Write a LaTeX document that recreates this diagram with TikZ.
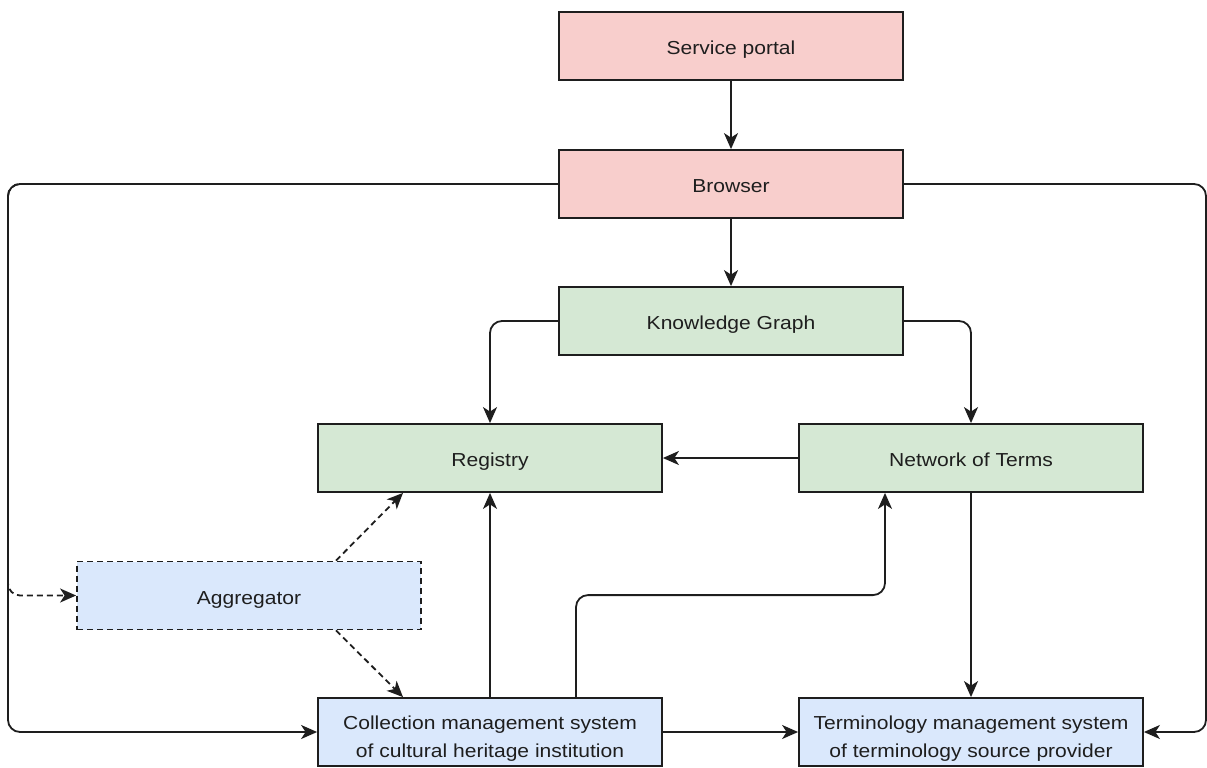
\documentclass[tikz,border=0pt]{standalone}
\usepackage{fontspec}
\setmainfont[FakeStretch=1.12]{Liberation Sans}
\usetikzlibrary{arrows.meta,calc}
\definecolor{pinkfill}{HTML}{F8CECC}
\definecolor{greenfill}{HTML}{D5E8D4}
\definecolor{bluefill}{HTML}{DAE8FC}
\definecolor{ink}{HTML}{1E1E1E}
% two centred lines, set a little below the middle of their box
\newcommand{\twolines}[2]{\raisebox{-10pt}[0pt][0pt]{\begin{tabular}{@{}c@{}}#1\\#2\end{tabular}}}

\begin{document}
\begin{tikzpicture}[x=1pt,y=-1pt,
  box/.style={draw=ink, line width=1.8pt, minimum width=344pt, minimum height=68pt,
    inner sep=0pt, font=\fontsize{18.8}{28}\selectfont, text=ink},
  oneline/.style={text height=19pt, text depth=2pt},
  portal/.style={box, oneline, fill=pinkfill},
  kgbox/.style={box, oneline, fill=greenfill},
  sysbox/.style={box, fill=bluefill},
  link/.style={draw=ink, line width=1.8pt, rounded corners=12pt,
    -{Stealth[length=16pt,width=14pt,inset=4.5pt]}},
  dlink/.style={link, dash pattern=on 6pt off 4pt},
]
\useasboundingbox (0,0) rectangle (1207,768);

% boxes
\node[portal] (sp)  at (731,46)  {Service portal};
\node[portal] (br)  at (731,184) {Browser};
\node[kgbox]  (kg)  at (731,321) {Knowledge Graph};
\node[kgbox]  (reg) at (490,458) {Registry};
\node[kgbox]  (not) at (971,458) {Network of Terms};
\node[sysbox, oneline, dash pattern=on 6pt off 4pt] (agg) at (249,595.5) {Aggregator};
\node[sysbox] (cms) at (490,732) {\twolines{Collection management system}{of cultural heritage institution}};
\node[sysbox] (tms) at (971,732) {\twolines{Terminology management system}{of terminology source provider}};

% outer return lines
\coordinate (lc) at (8,0);
\coordinate (rc) at (1206,0);

% connectors
\draw[link] (sp) -- (br);
\draw[link] (br) -- (kg);
\draw[link] (kg.west) -| (reg.north);
\draw[link] (kg.east) -| (not.north);
\draw[link] (not.west) -- (reg.east);
\draw[link] (not.south) -- (tms.north);
\draw[link] (cms.north) -- (reg.south);
\draw[link] ($(cms.north)+(86,0)$) -- ++(0,-102) -| ($(not.south)+(-86,0)$);
\draw[link] (cms.east) -- (tms.west);

\draw[dlink] (br.west) -- (br.west -| lc) -- (lc |- agg.west) -- (agg.west);
\draw[link] (br.west) -- (br.west -| lc) -- (lc |- cms.west) -- (cms.west);
\draw[link] (br.east) -- (br.east -| rc) -- (rc |- tms.east) -- (tms.east);

\draw[dlink] ($(agg.north)+(87,0)$) -- ($(reg.south)+(-87,0)$);
\draw[dlink] ($(agg.south)+(87,0)$) -- ($(cms.north)+(-87,0)$);
\end{tikzpicture}
\end{document}
